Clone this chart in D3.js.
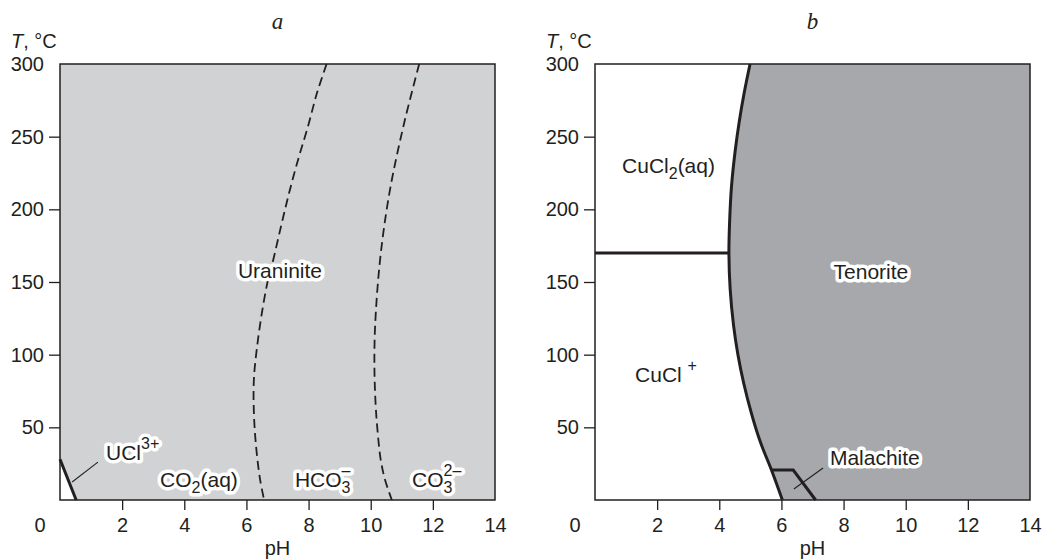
<!DOCTYPE html>
<html>
<head>
<meta charset="utf-8">
<script src="https://cdn.jsdelivr.net/npm/d3@7"></script>
<style>
  body { margin: 0; background: #fff; }
  svg text { font-family: "Liberation Sans", Arial, sans-serif; fill: #231f20; }
  svg text.halo { fill: #fff; stroke: #fff; stroke-width: 7px; stroke-linejoin: round; }
</style>
</head>
<body>
<svg id="chart" width="1042" height="560"></svg>
<script>
// ********** DATA **********

// Tick labels
const phTicks = [2, 4, 6, 8, 10, 12, 14];
const tTicks = [50, 100, 150, 200, 250, 300];

// Panel a - boundaries as [pH, T]
const co2HcoLine = [[8.58, 300], [8.27, 280], [7.98, 257], [7.66, 234], [7.37, 211], [7.11, 188],
  [6.86, 165], [6.69, 151], [6.50, 129], [6.34, 105], [6.24, 83], [6.24, 60], [6.31, 37],
  [6.44, 14], [6.57, 0]];
const hcoCo3Line = [[11.56, 300], [11.05, 257], [10.60, 211], [10.30, 165], [10.14, 119],
  [10.12, 90], [10.16, 65], [10.21, 50], [10.32, 28], [10.46, 14], [10.68, 0]];
const uclLine = [[0, 28], [0.52, 0]];

// Panel b - boundaries as [pH, T]
const tenoriteLine = [[4.99, 300], [4.80, 280], [4.64, 260], [4.51, 240], [4.39, 215], [4.33, 190],
  [4.31, 170], [4.35, 145], [4.46, 120], [4.60, 100], [4.79, 80], [5.03, 60], [5.32, 40],
  [5.68, 20.6], [6.03, 0]];
const cuclSplitLine = [[0, 170], [4.31, 170]];
const malachiteLine = [[5.68, 20.6], [6.38, 20.6], [7.1, 0]];

// Labels: _{} subscript, ^{} superscript; anchor at [pH, T]
const labelsA = [
  { text: 'Uraninite', at: [7.08, 153], anchor: 'middle' },
  { text: 'UCl^{3+}', at: [1.48, 27.5], anchor: 'start' },
  { text: 'CO_{2}(aq)', at: [3.22, 9], anchor: 'start' },
  { text: 'HCO_{3}^{–}', at: [7.56, 9], anchor: 'start' },
  { text: 'CO_{3}^{2–}', at: [11.33, 9], anchor: 'start' }
];
const leaderA = [[0.39, 12.4], [1.22, 26.1]];

const labelsB = [
  { text: 'CuCl_{2}(aq)', at: [0.87, 225], anchor: 'start' },
  { text: 'CuCl ^{+}', at: [1.29, 81], anchor: 'start' },
  { text: 'Tenorite', at: [8.88, 152], anchor: 'middle' },
  { text: 'Malachite', at: [7.56, 24], anchor: 'start' }
];
const leaderB = [[6.40, 7.6], [7.34, 22]];

// ********** LAYOUT **********
const W = 435, H = 436, TOP = 64;
const INK = '#231f20';

var svg = d3.select('#chart');

var x = d3.scaleLinear().domain([0, 14]).range([0, W]);
var y = d3.scaleLinear().domain([0, 300]).range([H, 0]);

var line = d3.line()
  .x(d => x(d[0]))
  .y(d => y(d[1]))
  .curve(d3.curveCatmullRom);

var straight = d3.line()
  .x(d => x(d[0]))
  .y(d => y(d[1]));

// write a label with sub / superscripts into a text element
function richText(textSel, str) {
  var parts = str.match(/_\{[^}]*\}|\^\{[^}]*\}|[^_^]+/g);
  var offset = 0, prevSub = null;
  parts.forEach(function(p) {
    var ts;
    if (p[0] === '_') {
      ts = textSel.append('tspan').style('font-size', '16px')
        .attr('dy', 6 - offset).text(p.slice(2, -1));
      offset = 6;
      prevSub = ts;
    } else if (p[0] === '^') {
      ts = textSel.append('tspan').style('font-size', '16px')
        .attr('dy', -11 - offset).text(p.slice(2, -1));
      if (prevSub) ts.attr('dx', -prevSub.node().getComputedTextLength());
      offset = -11;
      prevSub = null;
    } else {
      textSel.append('tspan').attr('dy', -offset).text(p);
      offset = 0;
      prevSub = null;
    }
  });
}

// white halo copy underneath, then the text itself
function drawLabels(g, labels) {
  var haloLayer = g.append('g');
  var textLayer = g.append('g');
  labels.forEach(function(l) {
    [haloLayer, textLayer].forEach(function(layer, i) {
      var t = layer.append('text')
        .classed('halo', i === 0)
        .attr('x', x(l.at[0]))
        .attr('y', y(l.at[1]))
        .attr('text-anchor', l.anchor)
        .style('font-size', '21px');
      richText(t, l.text);
    });
  });
}

function drawAxes(g, label) {
  // x axis
  var xa = g.append('g')
    .attr('transform', `translate(0,${H})`)
    .attr('color', INK)
    .call(d3.axisBottom(x).tickValues(phTicks).tickSize(10).tickPadding(8));
  xa.select('.domain').remove();
  xa.selectAll('.tick').filter(d => d === 14).select('line').remove();
  xa.selectAll('line').attr('stroke-width', 1.3);
  xa.selectAll('text').style('font-size', '20px');

  // y axis
  var ya = g.append('g')
    .attr('color', INK)
    .call(d3.axisLeft(y).tickValues(tTicks).tickSize(11).tickPadding(5));
  ya.select('.domain').remove();
  ya.selectAll('.tick').filter(d => d === 300).select('line').remove();
  ya.selectAll('line').attr('stroke-width', 1.3);
  ya.selectAll('text').style('font-size', '20px');

  // origin label
  g.append('text')
    .attr('x', -20).attr('y', H + 32)
    .attr('text-anchor', 'middle')
    .style('font-size', '20px')
    .text('0');

  // axis titles
  g.append('text')
    .attr('x', W / 2).attr('y', H + 55)
    .attr('text-anchor', 'middle')
    .style('font-size', '20px')
    .text('pH');

  var tl = g.append('text')
    .attr('x', -49).attr('y', -16)
    .style('font-size', '20px');
  tl.append('tspan').style('font-style', 'italic').text('T');
  tl.append('tspan').text(', °C');

  // panel letter
  g.append('text')
    .attr('x', W / 2).attr('y', -35)
    .attr('text-anchor', 'middle')
    .style('font-family', '"Liberation Serif", "Times New Roman", serif')
    .style('font-style', 'italic')
    .style('font-size', '23px')
    .text(label);

  // frame
  g.append('rect')
    .attr('width', W).attr('height', H)
    .attr('fill', 'none')
    .attr('stroke', INK)
    .attr('stroke-width', 1.5);
}

// ********** PANEL A **********
var ga = svg.append('g').attr('transform', `translate(60,${TOP})`);

ga.append('rect')
  .attr('width', W).attr('height', H)
  .attr('fill', '#d1d2d4');

// white UCl3+ corner
ga.append('path')
  .attr('d', straight([[0, 0]].concat(uclLine)) + 'Z')
  .attr('fill', '#fff');

ga.append('path')
  .attr('d', straight(uclLine))
  .attr('fill', 'none')
  .attr('stroke', INK)
  .attr('stroke-width', 3);

[co2HcoLine, hcoCo3Line].forEach(function(c) {
  ga.append('path')
    .attr('d', line(c))
    .attr('fill', 'none')
    .attr('stroke', INK)
    .attr('stroke-width', 1.8)
    .attr('stroke-dasharray', '9,5');
});

ga.append('path')
  .attr('d', straight(leaderA))
  .attr('stroke', INK)
  .attr('stroke-width', 1.1);

drawLabels(ga, labelsA);
drawAxes(ga, 'a');

// ********** PANEL B **********
var gb = svg.append('g').attr('transform', `translate(595,${TOP})`);

gb.append('rect')
  .attr('width', W).attr('height', H)
  .attr('fill', '#fff');

gb.append('path')
  .attr('d', d3.area()
    .y(d => y(d[1]))
    .x0(d => x(d[0]))
    .x1(x(14))
    .curve(d3.curveCatmullRom)(tenoriteLine))
  .attr('fill', '#a7a8ab');

gb.append('path')
  .attr('d', line(tenoriteLine))
  .attr('fill', 'none')
  .attr('stroke', INK)
  .attr('stroke-width', 3);

[cuclSplitLine, malachiteLine].forEach(function(c) {
  gb.append('path')
    .attr('d', straight(c))
    .attr('fill', 'none')
    .attr('stroke', INK)
    .attr('stroke-width', 3);
});

gb.append('path')
  .attr('d', straight(leaderB))
  .attr('stroke', INK)
  .attr('stroke-width', 1.1);

drawLabels(gb, labelsB);
drawAxes(gb, 'b');
</script>
</body>
</html>
